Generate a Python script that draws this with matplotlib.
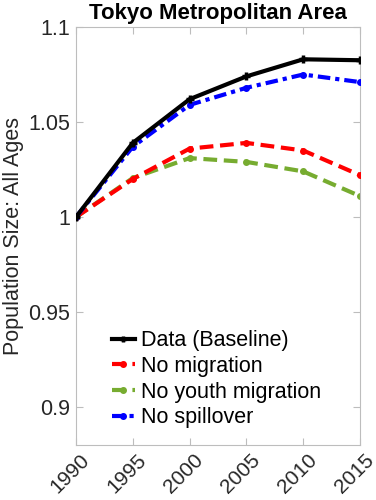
import matplotlib
matplotlib.use("Agg")
import matplotlib.pyplot as plt
from matplotlib.transforms import ScaledTranslation

plt.rcParams['font.family'] = ['Liberation Sans', 'DejaVu Sans']

years = [1990, 1995, 2000, 2005, 2010, 2015]
data_baseline = [1.000, 1.039, 1.062, 1.074, 1.083, 1.0825]
no_migration = [1.000, 1.020, 1.036, 1.039, 1.035, 1.022]
no_youth_migration = [1.000, 1.0205, 1.031, 1.029, 1.024, 1.011]
no_spillover = [1.000, 1.037, 1.059, 1.068, 1.075, 1.071]

labels = ["Data (Baseline)", "No migration", "No youth migration", "No spillover"]
yticks = [0.9, 0.95, 1.0, 1.05, 1.1]
ytick_labels = ["0.9", "0.95", "1", "1.05", "1.1"]

text_color = '#262626'
fs = 15.5

fig = plt.figure(figsize=(3.76, 5.0), dpi=100)
ax = fig.add_axes([76 / 376, 55 / 500, 284 / 376, 418 / 500])

ax.plot(years, data_baseline, color='black', lw=3, ls='-', marker='+',
        ms=6, mew=2.5, label=labels[0], zorder=5)
ax.plot(years, no_migration, color='#ff0000', lw=3, ls=(0, (3.3, 1.6)), marker='o',
        ms=4, label=labels[1], zorder=3)
ax.plot(years, no_youth_migration, color='#77ac30', lw=3, ls=(0, (3.3, 1.6)), marker='o',
        ms=4, label=labels[2], zorder=2)
ax.plot(years, no_spillover, color='#0000ff', lw=3, ls=(0, (3, 1.2, 1, 1.2)), marker='o',
        ms=4, label=labels[3], zorder=4)

for sp in ax.spines.values():
    sp.set_color('#bdbdbd')
    sp.set_linewidth(0.8)
ax.tick_params(direction='in', length=5, color='#bdbdbd', top=True, right=True,
               labelcolor=text_color, pad=4)

ax.set_xlim(1990, 2015)
ax.set_ylim(0.88, 1.1)
ax.set_xticks(years)
ax.set_xticklabels([str(y) for y in years], rotation=45, ha='right',
                   rotation_mode='anchor', fontsize=15)
# nudge the rotated year labels so their upper end sits just right of each tick
shift = ScaledTranslation(4 / 100, 0, fig.dpi_scale_trans)
for lbl in ax.get_xticklabels():
    lbl.set_transform(lbl.get_transform() + shift)
ax.set_yticks(yticks)
ax.set_yticklabels(ytick_labels, fontsize=fs)

ax.set_ylabel("Population Size: All Ages", fontsize=fs, color=text_color, labelpad=3)
ax.set_title("Tokyo Metropolitan Area", fontsize=16, fontweight='bold', pad=6)

leg = ax.legend(loc='lower left', bbox_to_anchor=(0.125, 0.04), frameon=False,
                fontsize=fs, handlelength=1.1, handletextpad=0.25,
                labelspacing=0.22, borderaxespad=0, borderpad=0)
for h in leg.get_lines():
    h.set_markersize(4)
for t in leg.get_texts():
    t.set_color('black')

fig.savefig("out.png", dpi=100)
